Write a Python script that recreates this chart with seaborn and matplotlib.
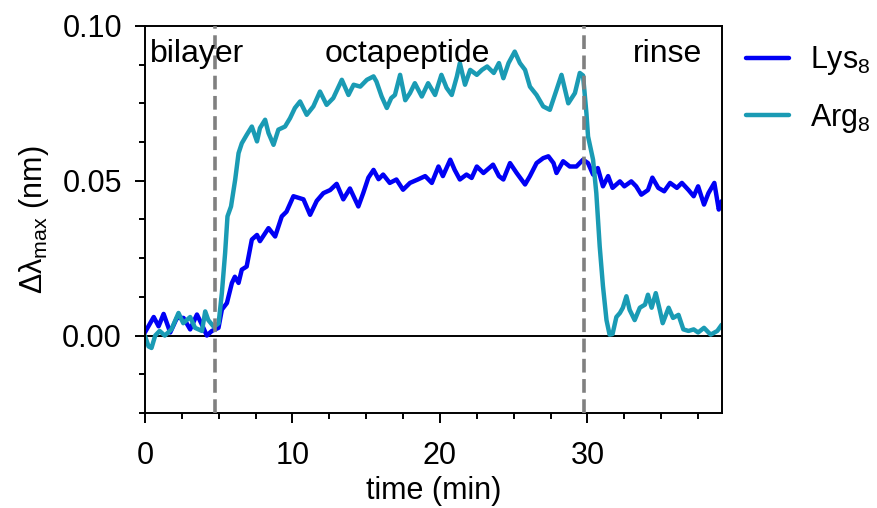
import numpy as np
import pandas as pd
import matplotlib
matplotlib.use("Agg")
import matplotlib.pyplot as plt
from matplotlib.ticker import MultipleLocator
import seaborn as sns

# Lys8 trace: time (min) and wavelength shift (nm)
lys_time = [0.0, 0.6, 0.93, 1.27, 1.72, 2.17, 2.62, 3.07, 3.53, 3.87, 4.2, 4.54, 4.99,
            5.22, 5.56, 5.9, 6.1, 6.35, 6.57, 6.9, 7.25, 7.6, 7.8, 8.38, 8.83, 9.28,
            9.6, 10.07, 10.75, 11.2, 11.65, 12.1, 12.56, 13.0, 13.45, 13.9, 14.47,
            14.8, 15.15, 15.5, 15.84, 16.15, 16.6, 17.05, 17.5, 17.97, 18.5, 19.0,
            19.45, 19.9, 20.2, 20.7, 21.0, 21.35, 21.8, 22.15, 22.5, 22.95, 23.6,
            24.0, 24.3, 24.75, 25.2, 25.77, 26.1, 26.55, 27.0, 27.35, 27.7, 27.9,
            28.35, 28.8, 29.25, 29.7, 30.04, 30.38, 30.7, 31.05, 31.4, 31.7, 32.2,
            32.5, 32.97, 33.3, 33.65, 34.1, 34.4, 34.8, 35.2, 35.6, 36.06, 36.4,
            36.85, 37.2, 37.5, 37.9, 38.2, 38.6, 38.9, 39.1]
lys_shift = [0.001, 0.006, 0.003, 0.007, 0.001, 0.0057, 0.0057, 0.002, 0.0068, 0.0035,
             0.0, 0.0015, 0.0025, 0.0084, 0.0105, 0.017, 0.019, 0.017, 0.0213, 0.0223,
             0.031, 0.0325, 0.0305, 0.0347, 0.032, 0.0385, 0.040, 0.045, 0.044, 0.039,
             0.0435, 0.046, 0.047, 0.049, 0.044, 0.0475, 0.0417, 0.046, 0.051, 0.0535,
             0.0505, 0.052, 0.0493, 0.0504, 0.0471, 0.0493, 0.0504, 0.0515, 0.0493,
             0.0546, 0.0515, 0.0568, 0.0535, 0.0504, 0.052, 0.0509, 0.0546, 0.0525,
             0.0552, 0.0515, 0.0504, 0.0557, 0.0525, 0.0488, 0.0515, 0.0557, 0.0573,
             0.0579, 0.0557, 0.0525, 0.0563, 0.0546, 0.0546, 0.0568, 0.0557, 0.052,
             0.0541, 0.0482, 0.0515, 0.0477, 0.0498, 0.0482, 0.0498, 0.0482, 0.0455,
             0.047, 0.051, 0.0477, 0.0466, 0.0493, 0.0477, 0.0493, 0.047, 0.045,
             0.0482, 0.0423, 0.046, 0.0493, 0.0407, 0.0434]

# Arg8 trace: time (min) and wavelength shift (nm)
arg_time = [0.0, 0.25, 0.45, 0.7, 1.0, 1.35, 1.8, 2.28, 2.6, 3.07, 3.4, 3.87, 4.09, 4.3,
            4.68, 5.0, 5.22, 5.44, 5.6, 5.84, 6.12, 6.35, 6.57, 6.9, 7.25, 7.6, 7.8,
            8.15, 8.38, 8.72, 9.05, 9.5, 9.84, 10.17, 10.52, 10.97, 11.42, 11.87,
            12.32, 12.77, 13.35, 13.8, 14.15, 14.6, 15.05, 15.5, 15.7, 16.05, 16.4,
            16.7, 16.95, 17.3, 17.65, 17.97, 18.3, 18.77, 19.2, 19.67, 20.1, 20.45,
            20.8, 21.15, 21.35, 21.7, 22.05, 22.5, 22.85, 23.2, 23.65, 24.0, 24.3,
            24.65, 25.07, 25.42, 25.77, 26.1, 26.55, 27.0, 27.45, 27.9, 28.24, 28.7,
            29.15, 29.48, 29.7, 29.93, 30.04, 30.38, 30.6, 30.83, 31.05, 31.29, 31.5,
            31.7, 31.96, 32.2, 32.4, 32.64, 32.86, 33.2, 33.55, 33.9, 34.1, 34.35,
            34.63, 34.9, 35.1, 35.5, 35.8, 36.17, 36.5, 36.85, 37.2, 37.5, 37.9,
            38.35, 38.8, 39.1]
arg_shift = [0.0, -0.0035, -0.004, 0.0, 0.0015, 0.0, 0.002, 0.0073, 0.004, 0.006, 0.0025,
             0.0015, 0.0078, 0.005, 0.0028, 0.004, 0.0138, 0.0267, 0.0385, 0.0417,
             0.0503, 0.0589, 0.0621, 0.0648, 0.0675, 0.0627, 0.067, 0.0697, 0.0654,
             0.0616, 0.0665, 0.0675, 0.0702, 0.0735, 0.0756, 0.0713, 0.074, 0.0788,
             0.0745, 0.0767, 0.0826, 0.0777, 0.081, 0.0804, 0.0826, 0.0837, 0.082,
             0.0772, 0.0735, 0.0767, 0.0777, 0.0842, 0.076, 0.0783, 0.0815, 0.0772,
             0.0815, 0.0777, 0.0842, 0.080, 0.0777, 0.0837, 0.088, 0.081, 0.0858,
             0.0842, 0.0858, 0.0869, 0.0848, 0.088, 0.0831, 0.088, 0.0917, 0.088,
             0.0858, 0.0804, 0.0777, 0.074, 0.0729, 0.0793, 0.0842, 0.075, 0.0783,
             0.0848, 0.084, 0.0718, 0.0643, 0.0568, 0.046, 0.0288, 0.016, 0.005,
             0.0003, 0.0005, 0.006, 0.0073, 0.009, 0.0127, 0.0083, 0.005, 0.009, 0.01,
             0.0132, 0.009, 0.0137, 0.0083, 0.004, 0.009, 0.0057, 0.0067, 0.002,
             0.0015, 0.002, 0.001, 0.0025, 0.0003, 0.0015, 0.0035]

series_names = ["Lys$_8$", "Arg$_8$"]
series_colors = ["#0000f5", "#1a9bb4"]
phase_bounds = [4.75, 29.75]
phase_labels = ["bilayer", "octapeptide", "rinse"]
phase_label_x = [0.35, 17.8, 35.4]
phase_label_ha = ["left", "center", "center"]

df = pd.concat([
    pd.DataFrame({"time": lys_time, "shift": lys_shift, "peptide": series_names[0]}),
    pd.DataFrame({"time": arg_time, "shift": arg_shift, "peptide": series_names[1]}),
], ignore_index=True)

sns.set_theme(style="ticks")
plt.rcParams["font.family"] = ["Liberation Sans", "DejaVu Sans"]
plt.rcParams["mathtext.fontset"] = "custom"
plt.rcParams["mathtext.rm"] = "Liberation Sans"
plt.rcParams["mathtext.it"] = "Liberation Sans:italic"
plt.rcParams["mathtext.default"] = "regular"
for key in ["text.color", "axes.labelcolor", "xtick.color", "ytick.color",
            "axes.edgecolor"]:
    plt.rcParams[key] = "black"

FS = 22
LW = 3.2

fig = plt.figure(figsize=(8.78, 5.08), dpi=100)
ax = fig.add_axes([0.165, 0.187, 0.657, 0.762])

sns.lineplot(data=df, x="time", y="shift", hue="peptide",
             palette=dict(zip(series_names, series_colors)),
             linewidth=LW, sort=False, estimator=None, ax=ax)

ax.axhline(0, color="black", linewidth=1.4, zorder=1)
for xb in phase_bounds:
    ax.axvline(xb, color="#808080", linewidth=2.6, linestyle=(0, (3.8, 1.8)), zorder=3)

for lab, xl, ha in zip(phase_labels, phase_label_x, phase_label_ha):
    ax.text(xl, 0.0908, lab, fontsize=23, ha=ha, va="center", color="black")

ax.set_xlim(0, 39.1)
ax.set_ylim(-0.025, 0.10)
ax.xaxis.set_major_locator(MultipleLocator(10))
ax.xaxis.set_minor_locator(MultipleLocator(2.5))
ax.yaxis.set_minor_locator(MultipleLocator(0.0125))
ax.set_yticks([0.0, 0.05, 0.10])
ax.set_yticklabels(["0.00", "0.05", "0.10"])
ax.tick_params(axis="both", which="major", length=7.5, width=1.4, labelsize=FS,
               direction="out", color="black")
ax.tick_params(axis="x", which="major", pad=13)
ax.tick_params(axis="y", which="major", pad=9)
ax.tick_params(axis="both", which="minor", length=4, width=1.4, direction="out",
               color="black")
for sp in ax.spines.values():
    sp.set_linewidth(1.4)
    sp.set_color("black")

ax.set_xlabel("time (min)", fontsize=FS, labelpad=3)
ax.set_ylabel("Δλ$_{max}$ (nm)", fontsize=FS, labelpad=8)

leg = ax.legend(loc="upper left", bbox_to_anchor=(1.01, 1.0), frameon=False,
                fontsize=FS, handlelength=1.4, handletextpad=0.7, labelspacing=0.8,
                borderaxespad=0.2)
for line in leg.get_lines():
    line.set_linewidth(LW)

fig.savefig("out.png", dpi=100)
